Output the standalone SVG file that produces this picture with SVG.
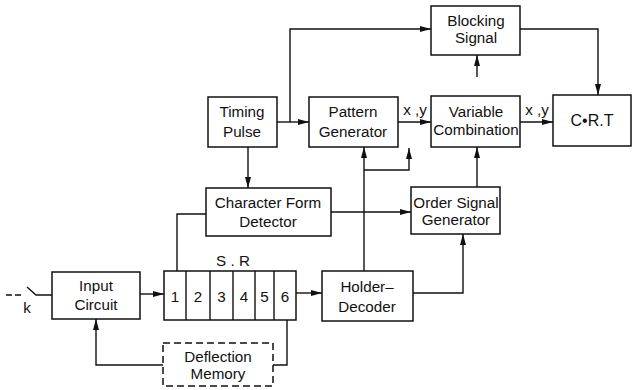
<svg xmlns="http://www.w3.org/2000/svg" width="635" height="390" viewBox="0 0 635 390">
<style>
.box{fill:#fff;stroke:#111;stroke-width:1.5}
.dbox{fill:#fff;stroke:#111;stroke-width:1.5;stroke-dasharray:7 4}
.ln{fill:none;stroke:#111;stroke-width:1.4}
.arr{fill:none;stroke:#111;stroke-width:1.4;marker-end:url(#ah)}
text{font-family:"Liberation Sans","DejaVu Sans",Arial,sans-serif;font-size:15.2px;fill:#111;text-anchor:middle}
</style>
<defs>
<marker id="ah" markerUnits="userSpaceOnUse" markerWidth="11" markerHeight="7" refX="11" refY="3.5" orient="auto">
<path d="M0,0.5 L11,3.5 L0,6.5 z" fill="#111"/>
</marker>
</defs>
<g id="connectors">
<path class="arr" d="M277,122 H309"/>
<path class="arr" d="M290,122 V29 H431"/>
<path class="arr" d="M520,29 H598 V95"/>
<path class="arr" d="M477,77 V55"/>
<path class="arr" d="M398,122 H431"/>
<path class="arr" d="M520,122 H553"/>
<path class="arr" d="M248,147 V188"/>
<path class="arr" d="M331,212 H411"/>
<path class="ln" d="M206,214 H177 V271"/>
<path class="arr" d="M364,271 V147"/>
<path class="arr" d="M364,170 H409 V148"/>
<path class="arr" d="M477,187 V147"/>
<path class="arr" d="M413,293 H463 V234"/>
<path class="arr" d="M296,293 H322"/>
<path class="arr" d="M140,294 H164"/>
<path class="ln" d="M287,320 V365 H273"/>
<path class="arr" d="M163,365 H96 V319"/>
<path class="ln" d="M6,295 H12 M15,295 H21"/>
<path class="ln" d="M27,287 L36,295 H52"/>
</g>
<g id="timing-pulse"><rect class="box" x="208" y="97" width="69" height="50"/><text x="242" y="117">Timing</text><text x="242" y="137">Pulse</text></g>
<g id="pattern-generator"><rect class="box" x="309" y="97" width="89" height="50"/><text x="353" y="117">Pattern</text><text x="353" y="137">Generator</text></g>
<g id="blocking-signal"><rect class="box" x="431" y="6" width="89" height="49"/><text x="476" y="26">Blocking</text><text x="476" y="43">Signal</text></g>
<g id="variable-combination"><rect class="box" x="431" y="96" width="89" height="51"/><text x="476" y="117">Variable</text><text x="476" y="135">Combination</text></g>
<g id="crt"><rect class="box" x="553" y="95" width="78" height="51"/><text x="592" y="126" style="font-size:16px">C•R.T</text></g>
<g id="character-form-detector"><rect class="box" x="206" y="188" width="125" height="48"/><text x="268" y="208">Character Form</text><text x="268" y="227">Detector</text></g>
<g id="order-signal-generator"><rect class="box" x="411" y="187" width="89" height="47"/><text x="456" y="208">Order Signal</text><text x="456" y="225">Generator</text></g>
<g id="holder-decoder"><rect class="box" x="322" y="271" width="91" height="50"/><text x="367" y="292">Holder–</text><text x="367" y="312">Decoder</text></g>
<g id="input-circuit"><rect class="box" x="52" y="272" width="88" height="47"/><text x="96" y="291">Input</text><text x="96" y="310">Circuit</text></g>
<g id="shift-register">
<rect class="box" x="164" y="271" width="132" height="49"/>
<path class="ln" d="M186,271 V320 M210,271 V320 M233,271 V320 M255,271 V320 M274,271 V320"/>
<text x="175" y="302">1</text><text x="198" y="302">2</text><text x="221.5" y="302">3</text><text x="244" y="302">4</text><text x="264.5" y="302">5</text><text x="285" y="302">6</text>
<text x="233" y="266">S . R</text>
</g>
<g id="deflection-memory"><rect class="dbox" x="163" y="343" width="110" height="43"/><text x="218" y="362">Deflection</text><text x="218" y="379">Memory</text></g>
<g id="labels">
<text x="27" y="313">k</text>
<text x="415" y="115">x ,y</text>
<text x="537" y="115">x ,y</text>
</g>
</svg>
